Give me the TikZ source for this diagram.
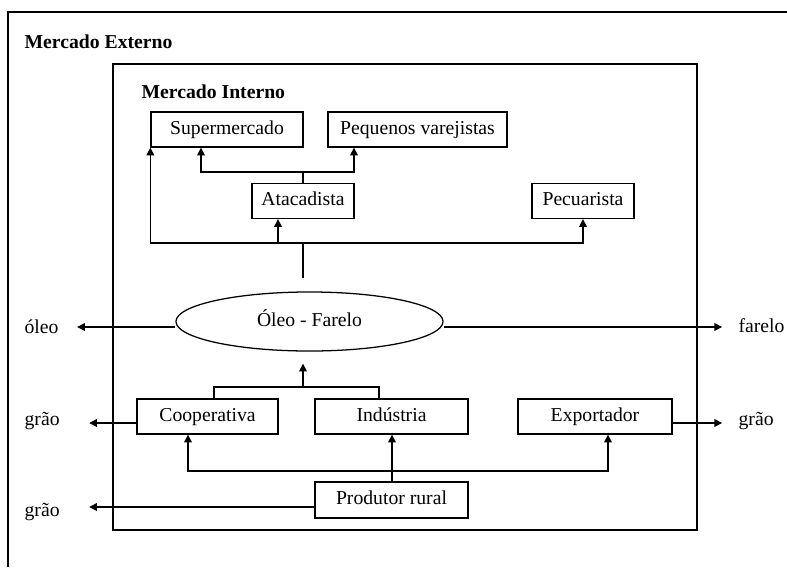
\documentclass[tikz,border=0pt]{standalone}
\usepackage{fontspec}
\setmainfont{Liberation Serif}
\usetikzlibrary{arrows.meta,calc,shapes.geometric}

\begin{document}
\begin{tikzpicture}[x=0.025cm, y=-0.025cm, line width=0.9pt,
    every node/.style={font=\fontsize{14}{17}\selectfont},
    box/.style={draw, minimum height=0.875cm, inner sep=0pt, text height=10pt, text depth=3pt},
    hd/.style={font=\fontsize{14}{17}\selectfont\bfseries, anchor=base west, inner sep=0pt},
    lbl/.style={anchor=base west, inner sep=0pt},
    arr/.style={-{Triangle[length=5.5pt,width=5.5pt]}}]
    \useasboundingbox (0,0) rectangle (787,567);

    % the two markets
    \draw (8,567) |- (787,12);
    \draw (113,64) rectangle (697,530);
    \node[hd] (ext) at (24,48) {Mercado Externo};
    \node[hd] (int) at (141,98) {Mercado Interno};

    % agents
    \node[box, minimum width=3.8cm] (sup) at (227,129.5) {Supermercado};
    \node[box, minimum width=4.475cm] (peq) at (417.5,129.5) {Pequenos varejistas};
    \node[box, minimum width=2.55cm] (atac) at (303,201) {Atacadista};
    \node[box, minimum width=2.55cm] (pecu) at (583,201) {Pecuarista};
    \node[draw, ellipse, minimum width=6.675cm, minimum height=1.475cm, inner sep=0pt, text height=10pt, text depth=3pt] (oleo) at (309.5,321.5) {Óleo - Farelo};
    \node[box, minimum width=3.525cm] (coop) at (207.5,416.5) {Cooperativa};
    \node[box, minimum width=3.825cm] (ind) at (391.5,416.5) {Indústria};
    \node[box, minimum width=3.85cm] (exp) at (595,416.5) {Exportador};
    \node[box, minimum width=3.825cm, minimum height=0.9cm] (prod) at (391.5,500) {Produtor rural};

    % outside flows
    \node[lbl] (oleoL) at (24,333) {óleo};
    \node[lbl] (graoL) at (24,425) {grão};
    \node[lbl] (graoB) at (24,516) {grão};
    \node[lbl] (farL) at (738,332) {farelo};
    \node[lbl] (graoR) at (738,425) {grão};

    % atacadista to retail
    \coordinate (split) at (303,172);
    \draw (atac.north) -- (split);
    \draw[arr] (split) -| ($(sup.south)+(-26,0)$);
    \draw[arr] (split) -| ($(peq.south)+(-63.5,0)$);

    % oleo - farelo to buyers
    \coordinate (bus) at (303,243);
    \draw ($(oleo.north)+(-6.5,-13)$) -- (bus);
    \draw[arr] (bus) -| (sup.south west);
    \draw[arr] (bus) -| ($(atac.south)+(-25,0)$);
    \draw[arr] (bus) -| (pecu.south);

    % crushers to oleo - farelo
    \coordinate (join) at (303,387);
    \draw ($(coop.north)+(6.5,0)$) |- (join) -| ($(ind.north)+(-12.5,0)$);
    \draw[arr] (join) -- ($(oleo.south)+(-6.5,12)$);

    % produtor rural
    \coordinate (pbus) at (392,471);
    \draw[arr] (prod.north -| pbus) -- (ind.south -| pbus);
    \draw[arr] (pbus) -| ($(coop.south)+(-19.5,0)$);
    \draw[arr] (pbus) -| ($(exp.south)+(13,0)$);

    % exports
    \coordinate (oleoOut) at ($(oleo.west)+(0,5.5)$);
    \coordinate (farOut) at ($(oleo.east)+(0,5.5)$);
    \coordinate (coopOut) at ($(coop.west)+(0,6.5)$);
    \coordinate (prodOut) at ($(prod.west)+(0,7)$);
    \coordinate (expOut) at ($(exp.east)+(0,6.5)$);
    \draw[arr, shorten >=12.8pt] (oleoOut) -- (oleoOut -| oleoL.east);
    \draw[arr, shorten >=11.3pt] (farOut) -- (farOut -| farL.west);
    \draw[arr, shorten >=20.6pt] (coopOut) -- (coopOut -| graoL.east);
    \draw[arr, shorten >=20.6pt] (prodOut) -- (prodOut -| graoB.east);
    \draw[arr, shorten >=11.3pt] (expOut) -- (expOut -| graoR.west);
\end{tikzpicture}
\end{document}
